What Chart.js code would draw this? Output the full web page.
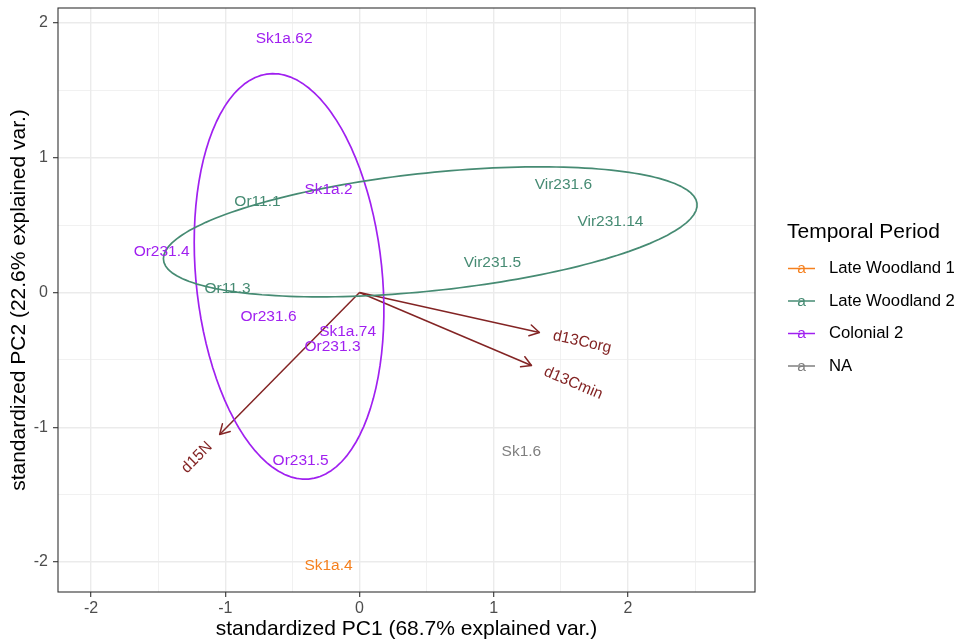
<!DOCTYPE html>
<html>
<head>
<meta charset="utf-8">
<title>PCA biplot by temporal period</title>
<script src="https://cdn.jsdelivr.net/npm/chart.js@4/dist/chart.umd.min.js"></script>
<style>
  html, body { margin: 0; padding: 0; background: #ffffff; }
  canvas { display: block; }
</style>
</head>
<body>
<canvas id="biplot" width="957" height="641"></canvas>
<script>
// Sample scores on the first two standardized principal components
const sampleNames = ['Sk1a.62', 'Sk1a.2', 'Or11.1', 'Or231.4', 'Or11.3', 'Or231.6', 'Sk1a.74',
                     'Or231.3', 'Or231.5', 'Sk1a.4', 'Vir231.6', 'Vir231.14', 'Vir231.5', 'Sk1.6'];
const samplePC1 = [-0.562, -0.231, -0.760, -1.474, -0.983, -0.678, -0.089,
                   -0.201, -0.439, -0.231, 1.519, 1.869, 0.990, 1.206];
const samplePC2 = [1.885, 0.764, 0.675, 0.304, 0.026, -0.178, -0.293,
                   -0.401, -1.247, -2.026, 0.798, 0.527, 0.223, -1.184];
const samplePeriod = ['Colonial 2', 'Colonial 2', 'Late Woodland 2', 'Colonial 2', 'Late Woodland 2',
                      'Colonial 2', 'Colonial 2', 'Colonial 2', 'Colonial 2', 'Late Woodland 1',
                      'Late Woodland 2', 'Late Woodland 2', 'Late Woodland 2', 'NA'];

// Temporal periods (legend order) and their colours
const periods = ['Late Woodland 1', 'Late Woodland 2', 'Colonial 2', 'NA'];
const periodColors = ['#F5801E', '#468B73', '#A020F0', '#7F7F7F'];

// Variable loadings drawn as arrows from the origin
const varNames = ['d13Corg', 'd13Cmin', 'd15N'];
const varPC1 = [1.340, 1.281, -1.042];
const varPC2 = [-0.297, -0.542, -1.054];

// Axis ticks
const xMajorTicks = [-2, -1, 0, 1, 2];
const xMinorTicks = [-1.5, -0.5, 0.5, 1.5, 2.5];
const yMajorTicks = [-2, -1, 0, 1, 2];
const yMinorTicks = [-1.5, -0.5, 0.5, 1.5];

const xTitle = 'standardized PC1 (68.7% explained var.)';
const yTitle = 'standardized PC2 (22.6% explained var.)';
const legendTitle = 'Temporal Period';

const ellipseProb = 0.68;
const varLabelAdjust = 1.06;
const arrowColor = '#832424';
const FONT = "'Liberation Sans', Arial, Helvetica, sans-serif";

Chart.defaults.font.family = FONT;

// Normal-theory confidence ellipse of a group of scores (covariance + Cholesky)
function confidenceEllipse(xs, ys, prob, n) {
  const k = xs.length;
  const mx = xs.reduce((a, b) => a + b, 0) / k;
  const my = ys.reduce((a, b) => a + b, 0) / k;
  let sxx = 0, syy = 0, sxy = 0;
  for (let i = 0; i < k; i++) {
    sxx += (xs[i] - mx) * (xs[i] - mx);
    syy += (ys[i] - my) * (ys[i] - my);
    sxy += (xs[i] - mx) * (ys[i] - my);
  }
  sxx /= (k - 1); syy /= (k - 1); sxy /= (k - 1);
  const r11 = Math.sqrt(sxx);
  const r12 = sxy / r11;
  const r22 = Math.sqrt(syy - r12 * r12);
  const ed = Math.sqrt(-2 * Math.log(1 - prob)); // chi-square quantile with 2 df
  const pts = [];
  for (let i = 0; i < n; i++) {
    const t = -Math.PI + 2 * Math.PI * i / (n - 1);
    const c = Math.cos(t), s = Math.sin(t);
    pts.push({ x: mx + ed * c * r11, y: my + ed * (c * r12 + s * r22) });
  }
  return pts;
}

const datasets = [];

// Loading arrows
varNames.forEach((name, i) => {
  datasets.push({
    label: name,
    kind: 'arrow',
    data: [{ x: 0, y: 0 }, { x: varPC1[i], y: varPC2[i] }],
    showLine: true,
    borderColor: arrowColor,
    borderWidth: 1.5,
    pointRadius: 0,
    order: 3
  });
});

// Sample scores, one dataset per period (drawn as text labels)
periods.forEach((p, gi) => {
  const idx = sampleNames.map((_, i) => i).filter(i => samplePeriod[i] === p);
  datasets.push({
    label: p,
    kind: 'samples',
    color: periodColors[gi],
    names: idx.map(i => sampleNames[i]),
    data: idx.map(i => ({ x: samplePC1[i], y: samplePC2[i] })),
    pointRadius: 0,
    showLine: false,
    order: 2
  });
  // Ellipse for groups with more than two samples
  if (idx.length > 2) {
    datasets.push({
      label: p + ' ellipse',
      kind: 'ellipse',
      data: confidenceEllipse(idx.map(i => samplePC1[i]), idx.map(i => samplePC2[i]), ellipseProb, 100),
      showLine: true,
      borderColor: periodColors[gi],
      borderWidth: 1.7,
      borderCapStyle: 'round',
      borderJoinStyle: 'round',
      pointRadius: 0,
      // a tiny tension keeps every vertex (no pixel-column path merging)
      tension: 0.0001,
      order: 1
    });
  }
});

function setTicks(major, minor) {
  return function (scale) {
    scale.ticks = major.concat(minor).sort((a, b) => a - b).map(v => ({ value: v }));
  };
}

const biplotText = {
  id: 'biplotText',
  afterDatasetsDraw(chart) {
    const ctx = chart.ctx;
    const xs = chart.scales.x, ys = chart.scales.y;
    const ox = xs.getPixelForValue(0), oy = ys.getPixelForValue(0);
    ctx.save();
    // arrow heads
    chart.data.datasets.forEach((ds, di) => {
      if (ds.kind !== 'arrow') return;
      const tip = chart.getDatasetMeta(di).data[1];
      const a = Math.atan2(tip.y - oy, tip.x - ox);
      const L = 11, w = Math.PI / 6;
      ctx.strokeStyle = ds.borderColor;
      ctx.lineWidth = 1.5;
      ctx.lineCap = 'round';
      ctx.lineJoin = 'round';
      ctx.beginPath();
      ctx.moveTo(tip.x - L * Math.cos(a - w), tip.y - L * Math.sin(a - w));
      ctx.lineTo(tip.x, tip.y);
      ctx.lineTo(tip.x - L * Math.cos(a + w), tip.y - L * Math.sin(a + w));
      ctx.stroke();
    });
    // sample labels
    ctx.font = '15.5px ' + FONT;
    ctx.textAlign = 'center';
    ctx.textBaseline = 'middle';
    chart.data.datasets.forEach((ds, di) => {
      if (ds.kind !== 'samples') return;
      ctx.fillStyle = ds.color;
      chart.getDatasetMeta(di).data.forEach((pt, j) => {
        ctx.fillText(ds.names[j], pt.x, pt.y);
      });
    });
    // variable labels, rotated along their arrows
    ctx.fillStyle = arrowColor;
    ctx.textAlign = 'left';
    varNames.forEach((name, i) => {
      const px = xs.getPixelForValue(varPC1[i] * varLabelAdjust);
      const py = ys.getPixelForValue(varPC2[i] * varLabelAdjust);
      const ang = Math.atan(varPC2[i] / varPC1[i]);
      const hjust = 0.5 * (1 - 1.1 * Math.sign(varPC1[i]));
      const w = ctx.measureText(name).width;
      ctx.save();
      ctx.translate(px, py);
      ctx.rotate(-ang);
      ctx.fillText(name, -hjust * w, 0);
      ctx.restore();
    });
    ctx.restore();
  },
  afterDraw(chart) {
    const ctx = chart.ctx;
    const area = chart.chartArea;
    ctx.save();
    // panel border
    ctx.strokeStyle = '#333333';
    ctx.lineWidth = 1.1;
    ctx.strokeRect(area.left, area.top, area.right - area.left, area.bottom - area.top);
    // legend
    ctx.fillStyle = '#000000';
    ctx.font = '21px ' + FONT;
    ctx.textAlign = 'left';
    ctx.textBaseline = 'alphabetic';
    ctx.fillText(legendTitle, 787, 237.5);
    periods.forEach((p, i) => {
      const cy = 268.5 + i * 32.5;
      ctx.strokeStyle = periodColors[i];
      ctx.lineWidth = 1.5;
      ctx.beginPath();
      ctx.moveTo(788, cy);
      ctx.lineTo(815, cy);
      ctx.stroke();
      ctx.fillStyle = periodColors[i];
      ctx.font = '15.5px ' + FONT;
      ctx.textAlign = 'center';
      ctx.textBaseline = 'alphabetic';
      ctx.fillText('a', 801.5, cy + 4.5);
      ctx.fillStyle = '#000000';
      ctx.font = '16.7px ' + FONT;
      ctx.textAlign = 'left';
      ctx.textBaseline = 'middle';
      ctx.fillText(p, 829, cy);
    });
    ctx.restore();
  }
};

const gridStyle = (majors) => ({
  color: '#EBEBEB',
  lineWidth: c => (majors.includes(c.tick.value) ? 1.4 : 0.7),
  drawTicks: true,
  tickLength: 5,
  tickWidth: 1.1,
  tickColor: c => (majors.includes(c.tick.value) ? '#333333' : 'rgba(0,0,0,0)')
});

new Chart(document.getElementById('biplot'), {
  type: 'scatter',
  data: { datasets },
  options: {
    responsive: false,
    animation: false,
    events: [],
    layout: { padding: { left: 0, right: 202, top: 8, bottom: 0 } },
    plugins: { legend: { display: false }, tooltip: { enabled: false } },
    scales: {
      x: {
        type: 'linear',
        min: -2.246,
        max: 2.946,
        afterBuildTicks: setTicks(xMajorTicks, xMinorTicks),
        afterFit(scale) { scale.height = 49; scale.paddingLeft = 0; scale.paddingRight = 0; },
        border: { display: false },
        grid: gridStyle(xMajorTicks),
        ticks: {
          autoSkip: false,
          maxRotation: 0,
          padding: 2,
          color: '#4D4D4D',
          font: { size: 16 },
          callback: v => (xMajorTicks.includes(v) ? String(v) : '')
        },
        title: {
          display: true,
          text: xTitle,
          color: '#000000',
          font: { size: 21 },
          padding: { top: 0, bottom: -1 }
        }
      },
      y: {
        type: 'linear',
        min: -2.223,
        max: 2.111,
        afterBuildTicks: setTicks(yMajorTicks, yMinorTicks),
        afterFit(scale) { scale.width = 58; scale.paddingTop = 0; scale.paddingBottom = 0; },
        border: { display: false },
        grid: gridStyle(yMajorTicks),
        ticks: {
          autoSkip: false,
          padding: 5,
          color: '#4D4D4D',
          font: { size: 16 },
          callback: v => (yMajorTicks.includes(v) ? String(v) : '')
        },
        title: {
          display: true,
          text: yTitle,
          color: '#000000',
          font: { size: 21 },
          padding: { top: 7, bottom: 0 }
        }
      }
    }
  },
  plugins: [biplotText]
});
</script>
</body>
</html>
